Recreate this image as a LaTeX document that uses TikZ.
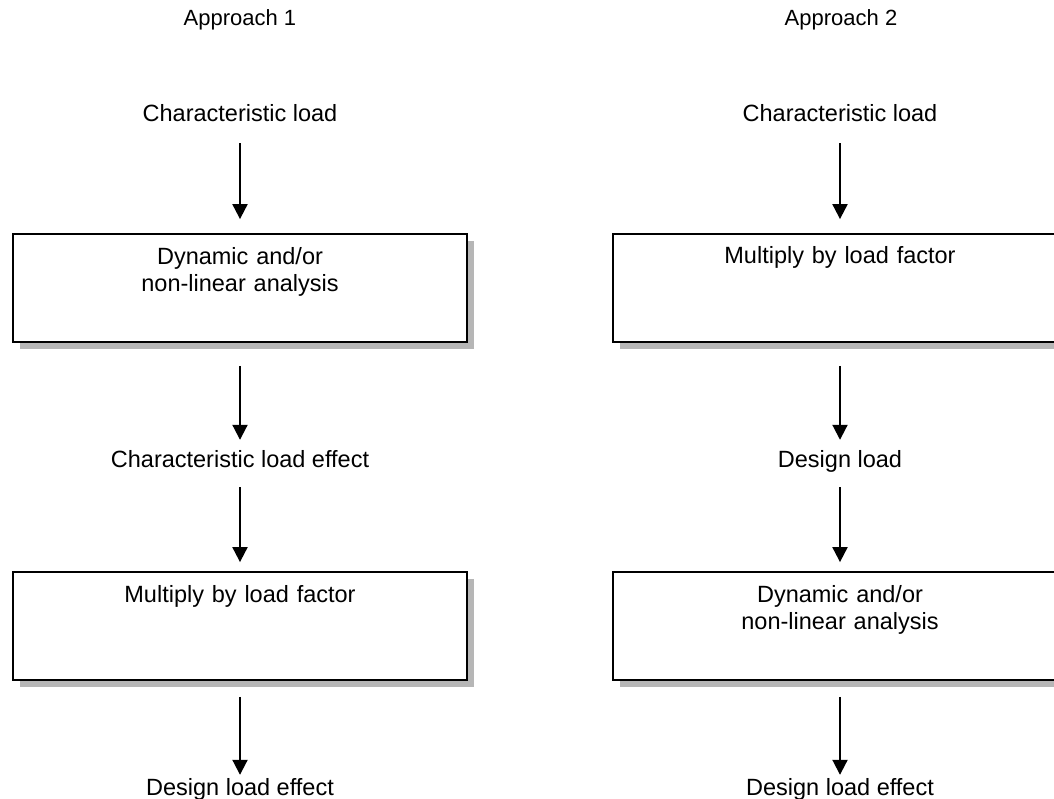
\documentclass[tikz,border=0pt]{standalone}
\usepackage{fontspec}
\setmainfont{Liberation Sans}
\usetikzlibrary{arrows.meta,shadows}
\definecolor{shadowgray}{RGB}{182,182,182}
\begin{document}
\begin{tikzpicture}[x=1pt,y=-1pt,
  lbl/.style={font=\fontsize{23.5}{27}\selectfont, inner sep=0pt, anchor=base, text height=17pt, text depth=5pt},
  ttl/.style={font=\fontsize{22}{26}\selectfont, inner sep=0pt, anchor=base},
  stagebox/.style={draw=black, line width=1.8pt, fill=white, minimum width=454pt, minimum height=108pt, inner sep=0pt,
    drop shadow={shadow xshift=7pt, shadow yshift=-7pt, fill=shadowgray, opacity=1}},
  boxtext/.style={font=\fontsize{23.5}{27}\selectfont, inner sep=0pt, anchor=base, text width=440pt, align=center},
  arr/.style={line width=2pt, -{Triangle[width=15pt,length=15pt]}}
]
\clip (0,0) rectangle (1054,799);
\fill[white] (0,0) rectangle (1054,799);

% Approach 1
\node[ttl] (ap1) at (240,26) {Approach 1};
\node[lbl] (l0) at (240,122) {Characteristic load};
\node[stagebox] (l1) at (240,288) {};
\node[boxtext] (l1t) at (240,265) {Dynamic and/or\\non-linear analysis};
\node[lbl] (l2) at (240,467) {Characteristic load effect};
\node[stagebox] (l3) at (240,626) {};
\node[boxtext] (l3t) at (240,602) {Multiply by load factor};
\node[lbl] (l4) at (240,795) {Design load effect};

\draw[arr, shorten <=16pt, shorten >=14pt] (l0.south) -- (l1.north);
\draw[arr, shorten <=23pt, shorten >=10pt] (l1.south) -- (l2.north);
\draw[arr, shorten <=15pt, shorten >=9pt] (l2.south) -- (l3.north);
\draw[arr, shorten <=16pt, shorten >=3pt] (l3.south) -- (l4.north);

% Approach 2
\node[ttl] (ap2) at (841,26) {Approach 2};
\node[lbl] (r0) at (840,122) {Characteristic load};
\node[stagebox] (r1) at (840,288) {};
\node[boxtext] (r1t) at (840,264) {Multiply by load factor};
\node[lbl] (r2) at (840,467) {Design load};
\node[stagebox] (r3) at (840,626) {};
\node[boxtext] (r3t) at (840,602) {Dynamic and/or\\non-linear analysis};
\node[lbl] (r4) at (840,795) {Design load effect};

\draw[arr, shorten <=16pt, shorten >=14pt] (r0.south) -- (r1.north);
\draw[arr, shorten <=23pt, shorten >=10pt] (r1.south) -- (r2.north);
\draw[arr, shorten <=15pt, shorten >=9pt] (r2.south) -- (r3.north);
\draw[arr, shorten <=16pt, shorten >=3pt] (r3.south) -- (r4.north);
\end{tikzpicture}
\end{document}
